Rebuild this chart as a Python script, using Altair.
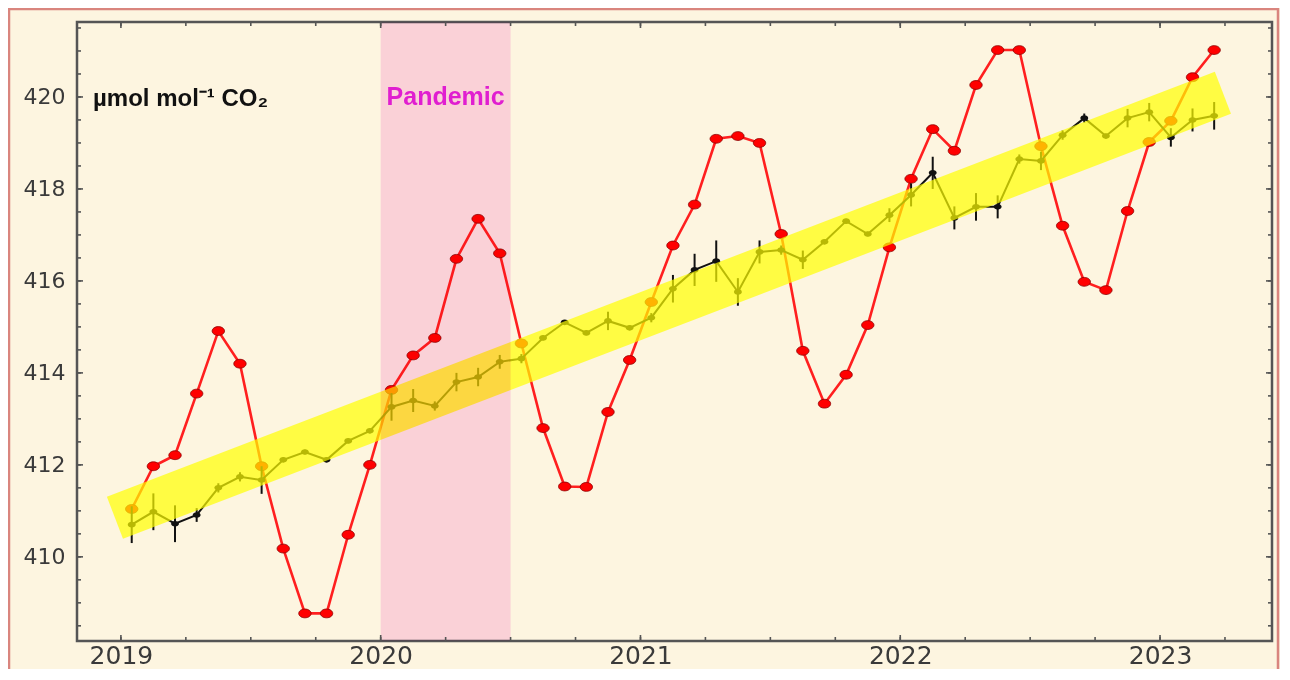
import altair as alt
import pandas as pd

# ---------------- data ----------------
MONTHS = [f"{y}-{m:02d}" for y in range(2019, 2024) for m in range(1, 13)][:51]

RED = [411.04, 411.97, 412.21, 413.55, 414.91, 414.20, 411.97, 410.18, 408.77, 408.77, 410.48, 412.00,
       413.63, 414.38, 414.76, 416.48, 417.35, 416.60, 414.64, 412.80, 411.53, 411.52, 413.15, 414.28,
       415.54, 416.77, 417.66, 419.09, 419.15, 419.00, 417.02, 414.48, 413.33, 413.96, 415.04, 416.73,
       418.22, 419.30, 418.83, 420.26, 421.02, 421.02, 418.93, 417.20, 415.98, 415.80, 417.52, 419.02,
       419.48, 420.43, 421.02]

BLACK = [410.70, 410.98, 410.72, 410.91, 411.50, 411.74, 411.67, 412.11, 412.28, 412.11, 412.52, 412.74,
         413.26, 413.40, 413.28, 413.80, 413.91, 414.24, 414.31, 414.76, 415.10, 414.87, 415.13, 414.98,
         415.20, 415.83, 416.24, 416.43, 415.76, 416.63, 416.67, 416.46, 416.85, 417.30, 417.02, 417.43,
         417.87, 418.35, 417.37, 417.61, 417.61, 418.65, 418.61, 419.17, 419.54, 419.15, 419.54, 419.67,
         419.12, 419.50, 419.59]

ERR = [0.40, 0.40, 0.40, 0.15, 0.10, 0.10, 0.30, 0.05, 0.05, 0.05, 0.05, 0.05,
       0.30, 0.25, 0.10, 0.20, 0.20, 0.15, 0.10, 0.05, 0.05, 0.05, 0.20, 0.05,
       0.10, 0.30, 0.35, 0.45, 0.30, 0.25, 0.10, 0.20, 0.05, 0.05, 0.05, 0.15,
       0.25, 0.35, 0.25, 0.30, 0.25, 0.10, 0.20, 0.10, 0.10, 0.05, 0.20, 0.20,
       0.20, 0.25, 0.30]

TREND_X = [2018.977, 2023.242]
TREND_Y = [410.85, 420.09]

PANDEMIC_START, PANDEMIC_END = 2020.0, 2020.5

X_MAJOR = [2019, 2020, 2021, 2022, 2023]
X_MINOR = [2019 + q * 0.25 for q in range(18)]
Y_MAJOR = [410, 412, 414, 416, 418, 420]
Y_MINOR = [408.5 + h * 0.5 for h in range(27)]

X_DOMAIN = [2018.831, 2023.431]
Y_DOMAIN = [408.17, 421.63]

# ---------------- frames ----------------
def dec_year(s):
    y, m = s.split("-")
    return int(y) + (int(m) - 0.5) / 12

df = pd.DataFrame({
    "t": [dec_year(s) for s in MONTHS],
    "red": RED,
    "black": BLACK,
    "lo": [b - e for b, e in zip(BLACK, ERR)],
    "hi": [b + e for b, e in zip(BLACK, ERR)],
})
trend = pd.DataFrame({"t": TREND_X, "v": TREND_Y})
pand = pd.DataFrame({"a": [PANDEMIC_START], "b": [PANDEMIC_END], "mid": [(PANDEMIC_START + PANDEMIC_END) / 2], "yv": [420.0]})
xmaj = pd.DataFrame({"v": X_MAJOR})
xmin = pd.DataFrame({"v": X_MINOR})
ymaj = pd.DataFrame({"v": Y_MAJOR})
ymin = pd.DataFrame({"v": Y_MINOR})

W, H = 1195, 619
xscale = alt.Scale(domain=X_DOMAIN, nice=False, zero=False)
yscale = alt.Scale(domain=Y_DOMAIN, nice=False, zero=False)
xaxis = alt.Axis(values=X_MAJOR, format="d", title=None, ticks=False, tickSize=0, domain=False, grid=False,
                 labelFontSize=25, labelFont="DejaVu Sans", labelColor="#3a3a3a", labelPadding=2)
yaxis = alt.Axis(values=Y_MAJOR, format="d", title=None, ticks=False, tickSize=0, domain=False, grid=False,
                 labelFontSize=22, labelFont="DejaVu Sans", labelColor="#3a3a3a", labelPadding=12)

def X(f):
    return alt.X(f, type="quantitative", scale=xscale, axis=xaxis)

def Y(f):
    return alt.Y(f, type="quantitative", scale=yscale, axis=yaxis)

ELLIPSE = "M -1.4 0 A 1.4 1 0 1 1 1.4 0 A 1.4 1 0 1 1 -1.4 0 Z"

red_line = alt.Chart(df).mark_line(color="#ff1f1f", strokeWidth=2.6).encode(x=X("t"), y=Y("red"))
red_pts = alt.Chart(df).mark_point(shape=ELLIPSE, filled=True, fill="#ff0000", stroke="#8a0000",
                                   strokeWidth=0.8, size=78, opacity=1).encode(x=X("t"), y=Y("red"))

err = alt.Chart(df).mark_rule(color="#111111", strokeWidth=2).encode(x=X("t"), y=Y("lo"), y2="hi")
blk_line = alt.Chart(df).mark_line(color="#111111", strokeWidth=2).encode(x=X("t"), y=Y("black"))
blk_pts = alt.Chart(df).mark_point(shape=ELLIPSE, filled=True, color="#111111", size=32, opacity=1).encode(
    x=X("t"), y=Y("black"))

band = alt.Chart(trend).mark_line(color="#ffff00", strokeWidth=45, strokeCap="butt", opacity=0.7).encode(
    x=X("t"), y=Y("v"))

pink = alt.Chart(pand).mark_rect(color="#fcdaf5", opacity=1, blend="multiply").encode(
    x=X("a"), x2="b", y=alt.value(0), y2=alt.value(H))

pand_txt = alt.Chart(pand).mark_text(text="Pandemic", font="Liberation Sans", fontWeight="bold", fontSize=25,
                                     color="#e01ed0", align="center", baseline="middle").encode(
    x=X("mid"), y=Y("yv"))

unit_txt = alt.Chart(alt.Data(values=[{}])).mark_text(
    text="µmol mol⁻¹ CO₂", font="Liberation Sans", fontWeight="bold", fontSize=24, color="#111111",
    align="left", baseline="middle").encode(x=alt.value(16), y=alt.value(77))

TC = "#555555"
def xticks(data, size):
    bot = alt.Chart(data).mark_rule(color=TC, strokeWidth=1.6).encode(x=X("v"), y=alt.value(H), y2=alt.value(H - size))
    top = alt.Chart(data).mark_rule(color=TC, strokeWidth=1.6).encode(x=X("v"), y=alt.value(0), y2=alt.value(size))
    return [bot, top]

def yticks(data, size):
    lef = alt.Chart(data).mark_rule(color=TC, strokeWidth=1.6).encode(y=Y("v"), x=alt.value(0), x2=alt.value(size))
    rig = alt.Chart(data).mark_rule(color=TC, strokeWidth=1.6).encode(y=Y("v"), x=alt.value(W), x2=alt.value(W - size))
    return [lef, rig]

border = alt.Chart(alt.Data(values=[{}])).mark_rect(fill="transparent", stroke="#d9857e", strokeWidth=2.5).encode(
    x=alt.value(-68), x2=alt.value(1201), y=alt.value(-13), y2=alt.value(660))

layers = [red_line, red_pts, err, blk_line, blk_pts, band, pink, pand_txt, unit_txt]
layers += xticks(xmaj, 6) + xticks(xmin, 4) + yticks(ymaj, 6) + yticks(ymin, 4)
layers += [border]

chart = alt.layer(*layers).properties(
    width=W, height=H, autosize="none",
    padding={"left": 69, "top": 14, "right": 8, "bottom": 28},
    background="#fdf5e0",
).configure_view(fill="#fdf5e0", stroke="#555555", strokeWidth=2.5)

chart.save("out.html", embed_options={"renderer": "svg", "actions": False})
